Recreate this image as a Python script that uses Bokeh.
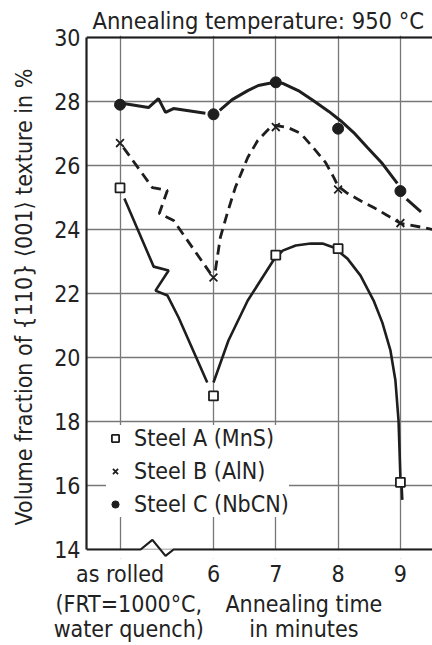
from bokeh.plotting import figure
from bokeh.models import Range1d, FixedTicker, Legend, LegendItem, LinearAxis
from bokeh.embed import file_html
from bokeh.resources import INLINE

FONT = "DejaVu Sans Condensed"

# x categories (positions on the time axis) and tick labels
tick_pos = [4.5, 6, 7, 8, 9]
tick_labels = ["as rolled", "6", "7", "8", "9"]
y_ticks = [14, 16, 18, 20, 22, 24, 26, 28, 30]
# second / third line of the x-axis captions
cap_pos = [4.64, 7.45]
cap_line2 = ["(FRT=1000\u00b0C,", "Annealing time"]
cap_line3 = ["water quench)", "in minutes"]

# measured values (volume fraction of {110}<001> texture, %)
steel_a = [25.3, 18.8, 23.2, 23.4, 16.1]
steel_b = [26.7, 22.5, 27.2, 25.25, 24.2]
steel_c = [27.9, 27.6, 28.6, 27.15, 25.2]

# hand-drawn trend curves
a1_x = [4.57, 5.04, 5.28, 5.07, 5.26, 5.44, 5.9]
a1_y = [24.97, 22.84, 22.72, 22.09, 21.94, 21.25, 19.22]
a2_x = [6.0, 6.24, 6.55, 6.96, 7.11, 7.32, 7.56, 7.75, 7.93, 8.15, 8.36, 8.57, 8.71, 8.84, 8.92, 8.97, 9.0]
a2_y = [19.22, 20.53, 21.78, 23.03, 23.34, 23.5, 23.56, 23.56, 23.44, 23.09, 22.56, 21.78, 21.09, 20.22, 19.28, 18.03, 16.25]
a3_x = [9.02, 9.03]
a3_y = [15.95, 15.55]

b1_x = [4.555, 5.02, 5.26, 5.13, 5.36, 5.95]
b1_y = [26.56, 25.31, 25.22, 24.5, 24.28, 22.63]
b2_x = [6.03, 6.11, 6.22, 6.35, 6.55, 6.71, 6.91, 7.0, 7.19, 7.4, 7.6, 7.8, 7.93, 8.0, 8.15, 8.36, 8.57, 8.79, 9.0, 9.37, 9.52]
b2_y = [22.72, 23.75, 24.5, 25.31, 26.25, 26.78, 27.19, 27.25, 27.19, 27.0, 26.56, 26.09, 25.63, 25.35, 25.13, 24.9, 24.69, 24.44, 24.19, 24.06, 24.0]

c1_x = [4.555, 4.957, 5.117, 5.23, 5.358, 5.87]
c1_y = [27.94, 27.81, 28.09, 27.66, 27.78, 27.63]
c2_x = [6.1, 6.3, 6.55, 6.72, 6.88, 7.0, 7.12, 7.36, 7.6, 7.85, 8.04, 8.25, 8.47, 8.71, 8.95]
c2_y = [27.72, 28.06, 28.34, 28.5, 28.56, 28.6, 28.56, 28.34, 28.03, 27.69, 27.4, 27.03, 26.56, 26.06, 25.44]
c3_x = [9.1, 9.33]
c3_y = [24.95, 24.55]

# frame limits and the axis-break symbol on the time axis
x_start, x_end = 3.962, 9.515
y_low, y_base, y_top, y_end = 13.719, 14.0, 30.0, 30.0625
base_x = [x_start, 4.83, 5.02, 5.23, 5.36, x_end]
base_y = [14.0, 14.0, 14.3, 13.8, 14.0, 14.0]

ink = "#1e1e1e"
txt = "#222222"

p = figure(width=432, height=645, output_backend="svg", toolbar_location=None,
           x_range=Range1d(x_start, x_end), y_range=Range1d(y_low, y_end),
           min_border_left=86, min_border_right=0, min_border_top=35, min_border_bottom=87)
p.background_fill_color = "white"
p.border_fill_color = "white"
p.outline_line_color = None

p.title.text = "Annealing temperature: 950 \u00b0C"
p.title.align = "left"
p.title.offset = 6
p.title.standoff = 2
p.title.text_font = FONT
p.title.text_font_size = "23.5px"
p.title.text_font_style = "normal"
p.title.text_color = txt

# grid
p.xgrid.ticker = FixedTicker(ticks=tick_pos)
p.ygrid.ticker = FixedTicker(ticks=y_ticks)
for g in (p.xgrid, p.ygrid):
    g.grid_line_color = "#777777"
    g.grid_line_width = 1.3

def style_axis(ax, size="23px"):
    ax.major_tick_in = 0
    ax.major_tick_out = 0
    ax.minor_tick_in = 0
    ax.minor_tick_out = 0
    ax.major_label_text_font = FONT
    ax.major_label_text_font_size = size
    ax.major_label_text_color = txt

# axes
p.xaxis.ticker = FixedTicker(ticks=tick_pos)
p.xaxis.major_label_overrides = {t: l for t, l in zip(tick_pos, tick_labels)}
p.xaxis.axis_line_color = None
p.xaxis.major_label_standoff = 2
style_axis(p.xaxis[0])
p.yaxis.ticker = FixedTicker(ticks=y_ticks)
p.yaxis.bounds = (y_base, y_top)
p.yaxis.axis_line_color = ink
p.yaxis.axis_line_width = 2.2
p.yaxis.major_label_standoff = 6
style_axis(p.yaxis[0])
p.yaxis.axis_label = "Volume fraction of {110} \u27e8001\u27e9 texture in %"
p.yaxis.axis_label_text_font = FONT
p.yaxis.axis_label_text_font_size = "23px"
p.yaxis.axis_label_text_font_style = "normal"
p.yaxis.axis_label_text_color = txt
p.yaxis.axis_label_standoff = 14

for labels, standoff in ((cap_line2, 1), (cap_line3, -4)):
    ax = LinearAxis(ticker=FixedTicker(ticks=cap_pos),
                    major_label_overrides={t: l for t, l in zip(cap_pos, labels)},
                    axis_line_color=None, major_label_standoff=standoff)
    style_axis(ax)
    p.add_layout(ax, "below")

# white band under the baseline (hides the grid below y=14), frame lines
p.quad(left=[x_start], right=[x_end], bottom=[y_low], top=[y_base],
       fill_color="white", line_color=None)
p.line(base_x, base_y, line_color=ink, line_width=2.2)
p.line([x_start, x_end], [y_top, y_top], line_color=ink, line_width=2.2)

# curves
p.line(a1_x, a1_y, line_color=ink, line_width=2.6)
p.line(a2_x, a2_y, line_color=ink, line_width=2.6)
p.line(a3_x, a3_y, line_color=ink, line_width=2.6)
p.line(b1_x, b1_y, line_color=ink, line_width=2.8, line_dash="10 6")
p.line(b2_x, b2_y, line_color=ink, line_width=2.8, line_dash="10 6")
p.line(c1_x, c1_y, line_color=ink, line_width=3)
p.line(c2_x, c2_y, line_color=ink, line_width=3)
p.line(c3_x, c3_y, line_color=ink, line_width=3)

# markers
ra = p.scatter(tick_pos, steel_a, marker="square", size=9, fill_color="white",
               line_color=ink, line_width=1.8)
rb = p.scatter(tick_pos, steel_b, marker="x", size=11, line_color=ink, line_width=1.8)
rc = p.scatter(tick_pos, steel_c, marker="circle", size=11, fill_color=ink, line_color=ink)

legend = Legend(items=[LegendItem(label="Steel A (MnS)", renderers=[ra]),
                       LegendItem(label="Steel B (AlN)", renderers=[rb]),
                       LegendItem(label="Steel C (NbCN)", renderers=[rc])],
                location=(20, 41), background_fill_color="white", background_fill_alpha=1,
                border_line_color=None, label_text_font=FONT, label_text_font_size="23px",
                label_text_color=txt, glyph_width=18, glyph_height=20, label_height=26,
                label_standoff=10, spacing=7, padding=3, margin=0)
p.add_layout(legend, "center")

open("out.html", "w").write(file_html(p, INLINE))
